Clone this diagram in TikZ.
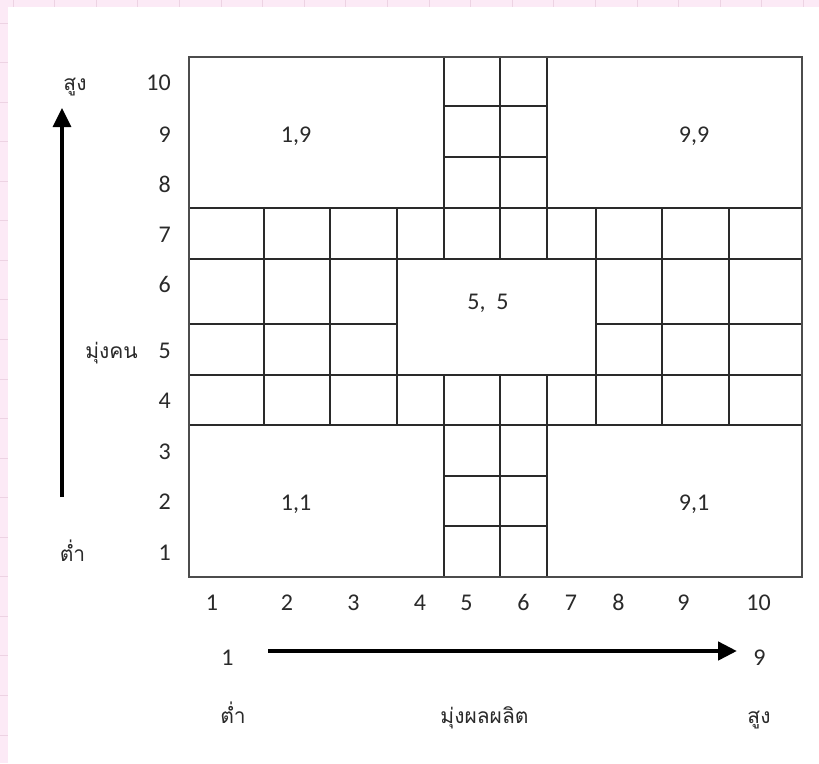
\documentclass[tikz,border=0pt]{standalone}
\usepackage{fontspec}
\setmainfont{Carlito}
\newfontfamily\thaifont[Script=Thai]{Loma}
\usetikzlibrary{arrows.meta}
\definecolor{bgpink}{HTML}{FCEAF6}
\definecolor{gridpink}{HTML}{EDD3E3}
\definecolor{ink}{HTML}{2A2A2A}
\begin{document}
\begin{tikzpicture}[x=1pt,y=-1pt,
  cellline/.style={line width=1.2pt, draw=ink},
  frameline/.style={line width=1.5pt, draw=black!70},
  num/.style={font=\fontsize{24}{28}\selectfont, text=ink, inner sep=0pt},
  thai/.style={font=\thaifont\fontsize{21}{26}\selectfont, text=ink, inner sep=0pt},
  axisarrow/.style={draw=black, -{Triangle[length=19pt,width=18pt]}}]
\useasboundingbox (0,0) rectangle (819,763);
% page background
\fill[bgpink] (0,0) rectangle (819,763);
\foreach \i in {0,...,19} \draw[gridpink, line width=1pt] (13+41.6*\i,0) -- (13+41.6*\i,763);
\foreach \j in {0,...,18} \draw[gridpink, line width=1pt] (0,23+39.56*\j) -- (819,23+39.56*\j);
\fill[white] (8,7) rectangle (819,763);
% grid
\draw[cellline] (189,208) -- (802,208) (189,259) -- (802,259) (189,375) -- (802,375) (189,425) -- (802,425);
\draw[cellline] (189,324) -- (397,324) (596,324) -- (802,324);
\draw[cellline] (444,106) -- (547,106) (444,157) -- (547,157) (444,476) -- (547,476) (444,526) -- (547,526);
\foreach \x in {444,500,547} \draw[cellline] (\x,57) -- (\x,259) (\x,375) -- (\x,577);
\foreach \x in {264,330,397,596,662,729} \draw[cellline] (\x,208) -- (\x,425);
\draw[frameline] (189,57) rectangle (802,577);
% cell labels
\node[num, anchor=base] (c19) at (296,142) {1,9};
\node[num, anchor=base] (c99) at (694,142) {9,9};
\node[num, anchor=base] (c55) at (488,309) {5,\ \ 5};
\node[num, anchor=base] (c11) at (296,510) {1,1};
\node[num, anchor=base] (c91) at (694,510) {9,1};
% y-axis numbers
\node[num, anchor=base east] (y10) at (171,90) {10};
\node[num, anchor=base east] (y9) at (171,142) {9};
\node[num, anchor=base east] (y8) at (171,192) {8};
\node[num, anchor=base east] (y7) at (171,242) {7};
\node[num, anchor=base east] (y6) at (171,292) {6};
\node[num, anchor=base east] (y5) at (171,358) {5};
\node[num, anchor=base east] (y4) at (171,408) {4};
\node[num, anchor=base east] (y3) at (171,459) {3};
\node[num, anchor=base east] (y2) at (171,509) {2};
\node[num, anchor=base east] (y1) at (171,560) {1};
% x-axis numbers
\node[num, anchor=base] (x1) at (212,610) {1};
\node[num, anchor=base] (x2) at (287,610) {2};
\node[num, anchor=base] (x3) at (353.5,610) {3};
\node[num, anchor=base] (x4) at (420,610) {4};
\node[num, anchor=base] (x5) at (466.5,610) {5};
\node[num, anchor=base] (x6) at (523.5,610) {6};
\node[num, anchor=base] (x7) at (571,610) {7};
\node[num, anchor=base] (x8) at (618.5,610) {8};
\node[num, anchor=base] (x9) at (683.5,610) {9};
\node[num, anchor=base] (x10) at (758.5,610) {10};
% vertical axis
\node[thai, anchor=base] (yhi) at (75,90) {สูง};
\node[thai, anchor=base] (ylo) at (72.5,561) {ต่ำ};
\node[thai, anchor=base] (yname) at (111.5,358) {มุ่งคน};
\coordinate (vs) at (62,497);
\coordinate (ve) at (62,108);
\draw[axisarrow, line width=3.3pt] (vs) -- (ve);
% horizontal axis
\node[num, anchor=base] (hmin) at (227.5,665) {1};
\node[num, anchor=base] (hmax) at (759.5,665) {9};
\coordinate (hs) at (268,651);
\coordinate (he) at (737,651);
\draw[axisarrow, line width=4.5pt] (hs) -- (he);
\node[thai, anchor=base] (xlo) at (233,723) {ต่ำ};
\node[thai, anchor=base] (xname) at (484.5,723) {มุ่งผลผลิต};
\node[thai, anchor=base] (xhi) at (759,723) {สูง};
\end{tikzpicture}
\end{document}
